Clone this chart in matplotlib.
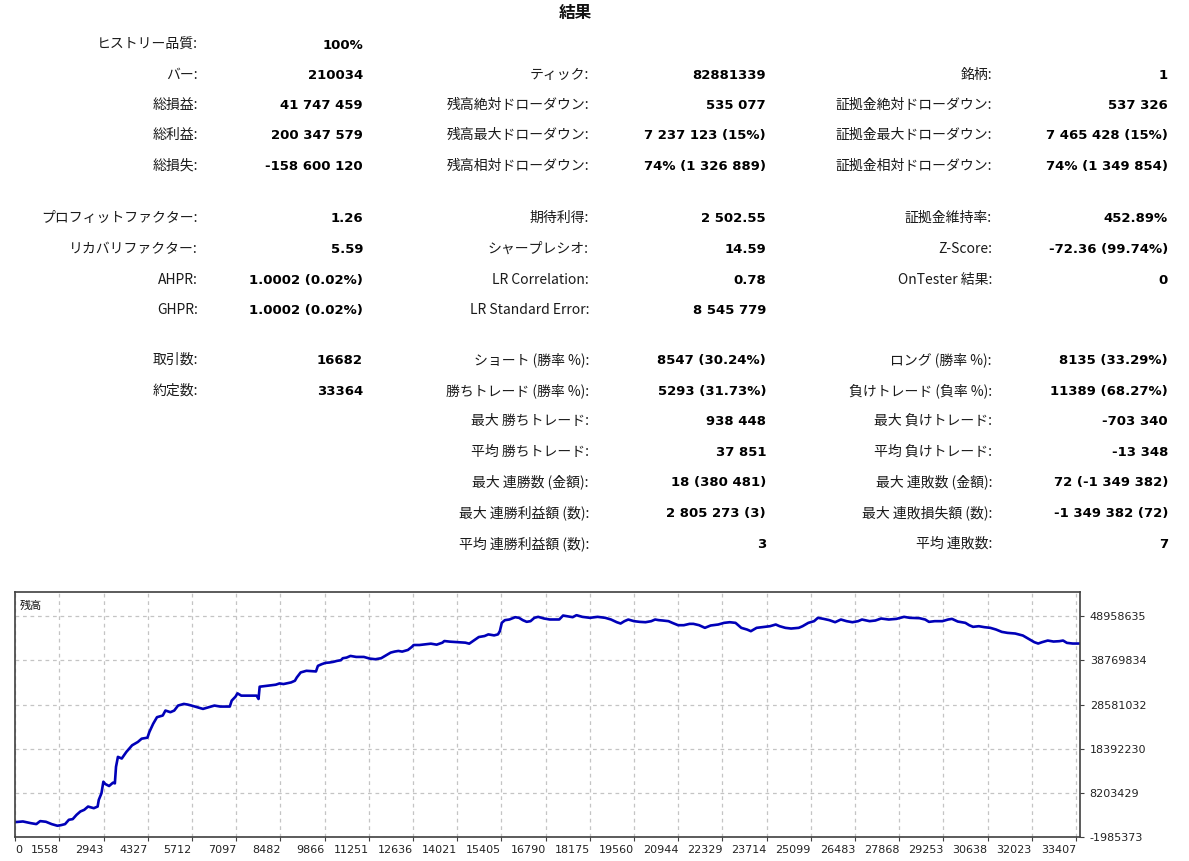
import numpy as np
import matplotlib
matplotlib.use("Agg")
import matplotlib.pyplot as plt

plt.rcParams["font.family"] = ["Noto Sans CJK JP", "DejaVu Sans"]

W, H = 1189, 861

# --- report table -------------------------------------------------------
title = "結果"

col1_labels = ["ヒストリー品質:", "バー:", "総損益:", "総利益:", "総損失:",
               "プロフィットファクター:", "リカバリファクター:", "AHPR:", "GHPR:",
               "取引数:", "約定数:", "", "", "", "", ""]
col1_values = ["100%", "210034", "41 747 459", "200 347 579", "-158 600 120",
               "1.26", "5.59", "1.0002 (0.02%)", "1.0002 (0.02%)",
               "16682", "33364", "", "", "", "", ""]

col2_labels = ["", "ティック:", "残高絶対ドローダウン:", "残高最大ドローダウン:", "残高相対ドローダウン:",
               "期待利得:", "シャープレシオ:", "LR Correlation:", "LR Standard Error:",
               "ショート (勝率 %):", "勝ちトレード (勝率 %):", "最大 勝ちトレード:", "平均 勝ちトレード:",
               "最大 連勝数 (金額):", "最大 連勝利益額 (数):", "平均 連勝利益額 (数):"]
col2_values = ["", "82881339", "535 077", "7 237 123 (15%)", "74% (1 326 889)",
               "2 502.55", "14.59", "0.78", "8 545 779",
               "8547 (30.24%)", "5293 (31.73%)", "938 448", "37 851",
               "18 (380 481)", "2 805 273 (3)", "3"]

col3_labels = ["", "銘柄:", "証拠金絶対ドローダウン:", "証拠金最大ドローダウン:", "証拠金相対ドローダウン:",
               "証拠金維持率:", "Z-Score:", "OnTester 結果:", "",
               "ロング (勝率 %):", "負けトレード (負率 %):", "最大 負けトレード:", "平均 負けトレード:",
               "最大 連敗数 (金額):", "最大 連敗損失額 (数):", "平均 連敗数:"]
col3_values = ["", "1", "537 326", "7 465 428 (15%)", "74% (1 349 854)",
               "452.89%", "-72.36 (99.74%)", "0", "",
               "8135 (33.29%)", "11389 (68.27%)", "-703 340", "-13 348",
               "72 (-1 349 382)", "-1 349 382 (72)", "7"]

# --- balance curve (deal number, balance in millions) ---------------------
deal_no = [178, 418, 658, 838, 958, 1138, 1318, 1498, 1618, 1738, 1858, 1978,
           2098, 2218, 2338, 2458, 2638, 2758, 2794, 2878, 2938, 2998, 3118,
           3238, 3298, 3334, 3394, 3514, 3658, 3838, 4018, 4138, 4318, 4378,
           4498, 4618, 4798, 4882, 5038, 5158, 5278, 5458, 5578, 5698, 5878,
           6058, 6238, 6418, 6598, 6898, 6958, 7078, 7138, 7258, 7498, 7738,
           7798, 7834, 8098, 8338, 8458, 8578, 8818, 8938, 8998, 9118, 9298,
           9598, 9658, 9778, 9898, 10018, 10138, 10258, 10378, 10438, 10558,
           10678, 10858, 11098, 11278, 11458, 11638, 11758, 11938, 12058,
           12178, 12298, 12478, 12598, 12658, 12838, 13018, 13198, 13378,
           13558, 13618, 13798, 13978, 14098, 14278, 14398, 14518, 14698,
           14878, 14998, 15178, 15298, 15358, 15418, 15514, 15658, 15838,
           15958, 16078, 16198, 16318, 16438, 16558, 16738, 16918, 17218,
           17338, 17458, 17638, 17758, 17938, 18178,
           18420, 18660, 18840, 19020, 19140, 19260, 19380, 19560, 19740,
           19920, 20100, 20220, 20340, 20460, 20640, 20760, 20940, 21120,
           21300, 21420, 21600, 21780, 21960, 22200, 22380, 22560, 22740,
           22920, 23100, 23220, 23400, 23640, 23820, 24000, 24120, 24300,
           24480, 24720, 24840, 25020, 25200, 25320, 25500, 25680, 25860,
           26040, 26220, 26400, 26580, 26700, 26940, 27120, 27300, 27540,
           27780, 28020, 28200, 28500, 28680, 28800, 28980, 29220, 29400,
           29520, 29700, 29940, 30060, 30180, 30360, 30540, 30720, 30900,
           31080, 31260, 31500, 31740, 31920, 32100, 32220, 32340, 32520,
           32700, 32880, 33000, 33120, 33300, 33516]
balance_m = [1.45, 1.60, 1.22, 0.99, 1.68, 1.53, 0.99, 0.61, 0.76, 0.99, 1.99, 2.14,
             3.13, 3.90, 4.28, 5.04, 4.66, 5.04, 6.57, 8.10, 10.77, 10.24, 9.78,
             10.54, 10.39, 14.21, 16.50, 16.12, 17.64, 19.17, 19.94, 20.70, 20.93, 22.23,
             24.14, 25.66, 26.04, 27.19, 26.81, 27.19, 28.34, 28.72, 28.57, 28.34, 27.96,
             27.57, 27.96, 28.34, 28.11, 28.11, 29.48, 30.40, 31.16, 30.63, 30.63, 30.63,
             29.86, 32.69, 32.92, 33.15, 33.45, 33.30, 33.68, 34.07, 34.83, 35.98, 36.36,
             36.21, 37.50, 37.89, 38.19, 38.27, 38.42, 38.65, 38.80, 39.26, 39.41,
             39.79, 39.56, 39.56, 39.18, 39.03, 39.26, 39.79, 40.56, 40.79,
             40.94, 40.79, 41.17, 41.86, 42.31, 42.31, 42.47, 42.62, 42.39,
             42.85, 43.23, 43.08, 43.00, 42.93, 42.85, 42.62, 43.23, 44.15,
             44.38, 44.76, 44.53, 44.76, 45.52, 47.43, 48.04, 48.20, 48.73,
             48.58, 48.04, 47.66, 47.81, 48.58, 48.81, 48.43, 48.20, 48.20,
             49.11, 48.96, 48.73, 49.19, 48.81, 48.58,
             48.81, 48.58, 48.19, 47.57, 47.27, 47.81, 48.19, 47.81, 47.65,
             47.57, 47.81, 48.19, 48.04, 47.96, 47.81, 47.42, 46.88, 46.88,
             47.19, 47.19, 46.88, 46.27, 46.81, 47.04, 47.42, 47.57, 47.42,
             46.27, 45.88, 45.50, 46.27, 46.50, 46.65, 47.04, 46.65, 46.27,
             46.11, 46.27, 46.65, 47.42, 47.81, 48.58, 48.34, 48.04, 47.57,
             48.19, 47.81, 47.57, 47.81, 48.19, 47.81, 47.96, 48.42, 48.19,
             48.34, 48.81, 48.58, 48.50, 48.19, 47.65, 47.81, 47.81, 48.19,
             48.34, 47.73, 47.42, 46.88, 46.50, 46.65, 46.42, 46.27, 45.88,
             45.34, 45.11, 44.96, 44.50, 43.73, 42.96, 42.65, 42.96, 43.34,
             43.11, 43.19, 43.34, 42.80, 42.65, 42.65]

x_ticks = [1558, 2943, 4327, 5712, 7097, 8482, 9866, 11251, 12636, 14021, 15405,
           16790, 18175, 19560, 20944, 22329, 23714, 25099, 26483, 27868, 29253,
           30638, 32023, 33407]
y_ticks = [-1985373, 8203429, 18392230, 28581032, 38769834, 48958635]


def fx(px):
    return px / W


def fy(py):
    return 1 - py / H


fig = plt.figure(figsize=(W / 100, H / 100), dpi=100)
fig.patch.set_facecolor("white")

fig.text(fx(575), fy(18), title, ha="center", va="baseline",
         fontsize=12, fontweight="bold", color="#111111")

row_y = [44, 74, 104, 134, 165, 217, 248, 279, 309, 359, 390, 420, 451, 481, 512, 543]
columns = [(col1_labels, col1_values, 198, 363),
           (col2_labels, col2_values, 589, 766),
           (col3_labels, col3_values, 992, 1168)]

for labels, values, lab_x, val_x in columns:
    for lab, val, y in zip(labels, values, row_y):
        if lab:
            fig.text(fx(lab_x), fy(y + 5), lab, ha="right", va="baseline",
                     fontsize=10, color="#1a1a1a")
        if val:
            fig.text(fx(val_x), fy(y + 5), val, ha="right", va="baseline",
                     fontsize=9.5, fontweight="bold", color="#000000",
                     family="DejaVu Sans")

# --- chart ----------------------------------------------------------------
ax = fig.add_axes([fx(15), fy(837), (1080 - 15) / W, (837 - 592) / H])
ax.plot(deal_no, np.array(balance_m) * 1e6, color="#0000b8", lw=1.9)

ax.set_xlim(170, 33530)
ax.set_ylim(y_ticks[0], 54.54e6)

ax.set_xticks([170] + x_ticks)
xl = ax.set_xticklabels(["0"] + [str(t) for t in x_ticks])
xl[0].set_ha("left")
for t in xl[1:]:
    t.set_ha("right")

ax.yaxis.tick_right()
ax.set_yticks(y_ticks)
ax.set_yticklabels([str(t) for t in y_ticks])

ax.tick_params(axis="both", labelsize=8, length=3, color="#404040",
               labelcolor="#222222")
ax.tick_params(axis="x", pad=3)
ax.tick_params(axis="y", pad=4)
for lab in ax.get_xticklabels() + ax.get_yticklabels():
    lab.set_family("DejaVu Sans")

ax.grid(True, linestyle=(0, (3, 3)), color="#c4c4c4", lw=0.9)
for s in ax.spines.values():
    s.set_color("#404040")
    s.set_linewidth(1.2)

ax.text(0.004, 0.965, "残高", transform=ax.transAxes, ha="left", va="top",
        fontsize=8, color="#111111")

fig.savefig("out.png", dpi=100)
